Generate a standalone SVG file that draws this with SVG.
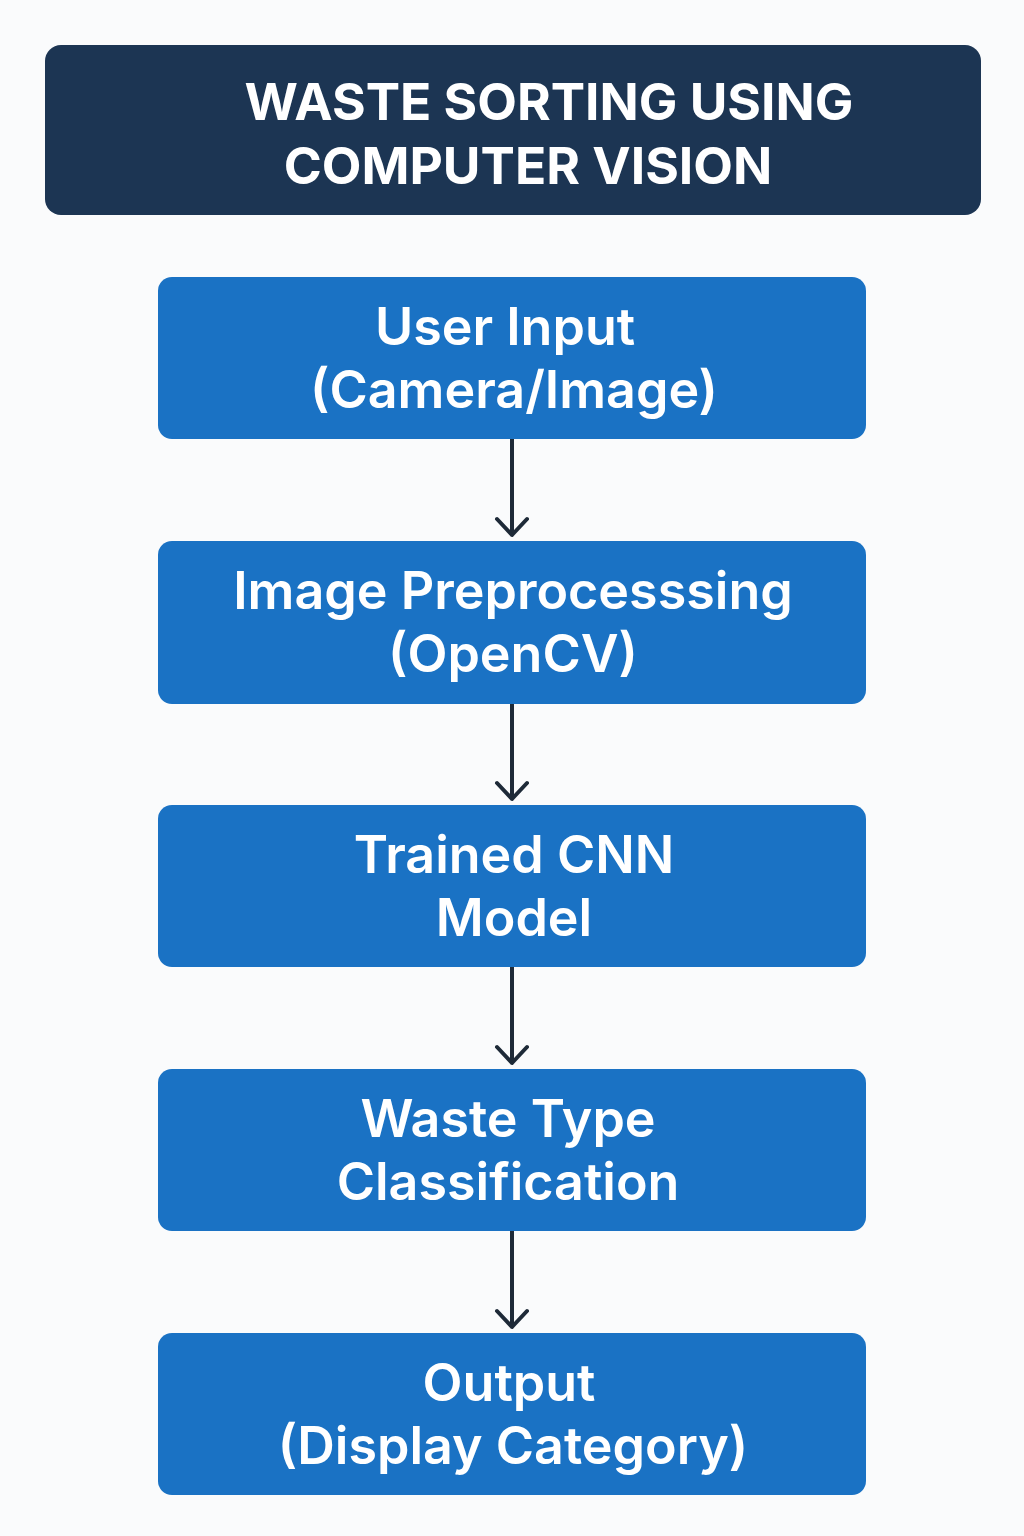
<svg xmlns="http://www.w3.org/2000/svg" width="1024" height="1536" viewBox="0 0 1024 1536">
<style>
.title{fill:#1C3553}
.box{fill:#1A72C4}
.tt{font-family:Inter,"Noto Sans",sans-serif;font-weight:700;font-size:51.5px;fill:#fff;text-anchor:middle}
.bt{font-family:Inter,"Noto Sans",sans-serif;font-weight:600;font-size:52px;fill:#fff;text-anchor:middle}
.conn{stroke:#1E2A38;stroke-width:4;fill:none;stroke-linecap:round;stroke-linejoin:round}
</style>
<rect width="1024" height="1536" fill="#FAFBFC"/>
<g id="title">
<rect class="title" x="45" y="45" width="936" height="170" rx="16"/>
<text class="tt" x="549" y="120">WASTE SORTING USING</text>
<text class="tt" x="528" y="184">COMPUTER VISION</text>
</g>
<g id="connectors">
<path class="conn" d="M512 439 V535 M497 519 L512 535 L527 519"/>
<path class="conn" d="M512 704 V799 M497 783 L512 799 L527 783"/>
<path class="conn" d="M512 967 V1063 M497 1047 L512 1063 L527 1047"/>
<path class="conn" d="M512 1231 V1327 M497 1311 L512 1327 L527 1311"/>
</g>
<g id="n1">
<rect class="box" x="158" y="277" width="708" height="162" rx="14"/>
<text class="bt" x="505" y="345">User Input</text>
<text class="bt" x="514" y="408">(Camera/Image)</text>
</g>
<g id="n2">
<rect class="box" x="158" y="541" width="708" height="163" rx="14"/>
<text class="bt" x="513" y="609">Image Preprocesssing</text>
<text class="bt" x="513" y="672">(OpenCV)</text>
</g>
<g id="n3">
<rect class="box" x="158" y="805" width="708" height="162" rx="14"/>
<text class="bt" x="514" y="873">Trained CNN</text>
<text class="bt" x="514" y="936">Model</text>
</g>
<g id="n4">
<rect class="box" x="158" y="1069" width="708" height="162" rx="14"/>
<text class="bt" x="508" y="1137">Waste Type</text>
<text class="bt" x="508" y="1200">Classification</text>
</g>
<g id="n5">
<rect class="box" x="158" y="1333" width="708" height="162" rx="14"/>
<text class="bt" x="509" y="1401">Output</text>
<text class="bt" x="513" y="1464">(Display Category)</text>
</g>
</svg>
